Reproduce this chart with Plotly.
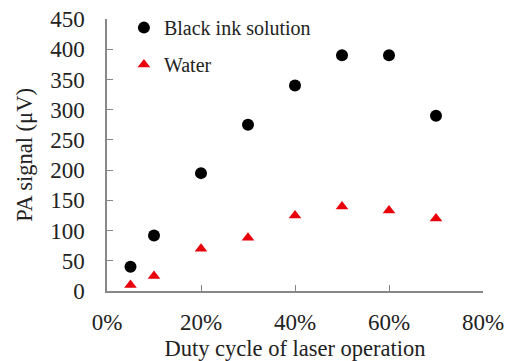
import plotly.graph_objects as go

duty = [0.05, 0.10, 0.20, 0.30, 0.40, 0.50, 0.60, 0.70]
black_ink = [40, 92, 195, 275, 340, 390, 390, 290]
water = [10, 25, 70, 88, 125, 140, 133, 120]

font_family = "Liberation Serif, Times New Roman, serif"
txt = "#222"

fig = go.Figure()
fig.add_trace(go.Scatter(x=duty, y=black_ink, mode="markers", name="Black ink solution",
                         legendgroup="a",
                         marker=dict(symbol="circle", size=12, color="black")))
fig.add_trace(go.Scatter(x=duty, y=water, mode="markers", name="Water",
                         legendgroup="b",
                         marker=dict(symbol="triangle-up", size=11, color="#e8000b")))

fig.update_layout(
    width=509, height=361,
    margin=dict(l=107, r=26, t=19, b=70, autoexpand=False),
    plot_bgcolor="white", paper_bgcolor="white",
    font=dict(family=font_family, size=19, color=txt),
    showlegend=True,
    legend=dict(x=0.045, y=1.04, xanchor="left", yanchor="top",
                bgcolor="rgba(0,0,0,0)", font=dict(family=font_family, size=20, color=txt),
                tracegroupgap=8, traceorder="grouped", itemwidth=30),
    xaxis=dict(range=[0, 0.8], dtick=0.2, tickformat=".0%",
               showgrid=False, zeroline=False, showline=True,
               linecolor="#888", linewidth=1.5,
               ticks="inside", ticklen=6, tickcolor="#888",
               ticklabelstandoff=10,
               tickfont=dict(family=font_family, size=23, color=txt),
               title=dict(text="Duty cycle of laser operation", standoff=7,
                          font=dict(family=font_family, size=22.5, color=txt))),
    yaxis=dict(range=[0, 450], dtick=50, showgrid=False, zeroline=False,
               showline=True, linecolor="#888", linewidth=1.5,
               ticks="inside", ticklen=6, tickcolor="#888",
               ticklabelstandoff=16,
               tickfont=dict(family=font_family, size=23, color=txt),
               title=dict(text="PA signal (μV)", standoff=11,
                          font=dict(family=font_family, size=22.5, color=txt))),
)

fig.write_html("out.html", config={"displayModeBar": False},
               post_script="document.body.style.margin='0px';")
